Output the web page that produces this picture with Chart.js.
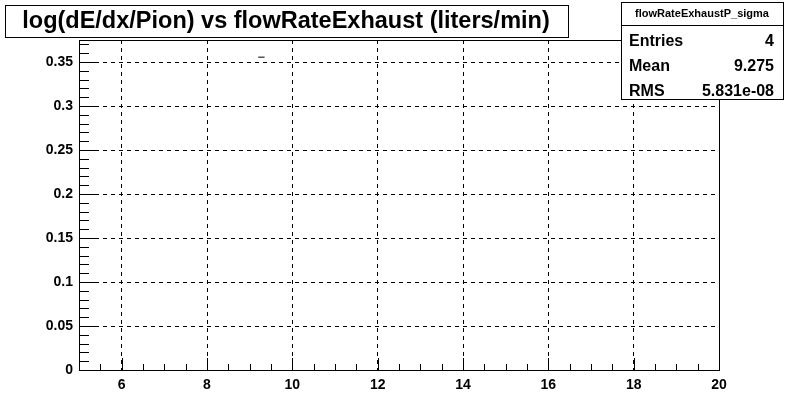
<!DOCTYPE html>
<html>
<head>
<meta charset="utf-8">
<script src="https://cdn.jsdelivr.net/npm/chart.js@4.4.1/dist/chart.umd.min.js"></script>
<style>
  html, body { margin: 0; padding: 0; background: #fff; }
  #wrap { width: 799px; height: 412px; position: relative; }
</style>
</head>
<body>
<div id="wrap"><canvas id="c"></canvas></div>
<script>
const titleText = 'log(dE/dx/Pion) vs flowRateExhaust (liters/min)';
const statsName = 'flowRateExhaustP_sigma';
const statsLabels = ['Entries', 'Mean', 'RMS'];
const statsValues = ['4', '9.275', '5.831e-08'];

const xTicks = [6, 8, 10, 12, 14, 16, 18, 20];
const yTicks = [0, 0.05, 0.1, 0.15, 0.2, 0.25, 0.3, 0.35];
const pointX = [9.275];
const pointY = [0.3555];
const pointXErr = [0.075];

const font = 'Liberation Sans, Arial, Helvetica, sans-serif';

// each point drawn as its x error bar
const segData = [];
pointX.forEach((x, i) => {
    segData.push({ x: x - pointXErr[i], y: pointY[i] });
    segData.push({ x: x + pointXErr[i], y: pointY[i] });
    segData.push({ x: NaN, y: NaN });
});

const rootFrame = {
    id: 'rootFrame',
    afterDraw(chart) {
        const ctx = chart.ctx;
        const a = chart.chartArea;
        const xs = chart.scales.x, ys = chart.scales.y;
        ctx.save();
        ctx.strokeStyle = '#000';
        ctx.lineWidth = 1;
        ctx.beginPath();
        // minor/major ticks on x
        for (let v = 5.5; v < 20; v += 0.5) {
            const px = Math.round(xs.getPixelForValue(v)) + 0.5;
            const major = Math.abs(v - Math.round(v / 2) * 2) < 1e-6;
            ctx.moveTo(px, a.bottom);
            ctx.lineTo(px, a.bottom - (major ? 12 : 6));
        }
        // minor/major ticks on y
        for (let k = 1; k <= 37; k++) {
            const py = Math.round(ys.getPixelForValue(k * 0.01)) + 0.5;
            ctx.moveTo(a.left, py);
            ctx.lineTo(a.left + (k % 5 === 0 ? 20 : 10), py);
        }
        ctx.stroke();
        // frame
        ctx.strokeRect(Math.round(a.left) + 0.5, Math.round(a.top) + 0.5,
            Math.round(a.right - a.left), Math.round(a.bottom - a.top));

        // title box
        ctx.fillStyle = '#fff';
        ctx.fillRect(5, 5, 563, 32);
        ctx.strokeRect(5.5, 5.5, 563, 32);
        ctx.fillStyle = '#000';
        let size = 24;
        ctx.font = 'bold ' + size + 'px ' + font;
        while (size > 10 && ctx.measureText(titleText).width > 536) {
            size -= 0.5;
            ctx.font = 'bold ' + size + 'px ' + font;
        }
        ctx.textAlign = 'center';
        ctx.textBaseline = 'middle';
        ctx.fillText(titleText, 286, 22);

        // stats box
        ctx.fillStyle = '#fff';
        ctx.fillRect(621, 2, 162, 97);
        ctx.strokeRect(621.5, 2.5, 162, 97);
        ctx.beginPath();
        ctx.moveTo(621, 25.5);
        ctx.lineTo(783, 25.5);
        ctx.stroke();
        ctx.fillStyle = '#000';
        ctx.font = 'bold 11px ' + font;
        ctx.textAlign = 'center';
        ctx.fillText(statsName, 702, 14);
        ctx.font = 'bold 16px ' + font;
        statsLabels.forEach((l, i) => {
            const y = 42 + i * 25;
            ctx.textAlign = 'left';
            ctx.fillText(l, 629, y);
            ctx.textAlign = 'right';
            ctx.fillText(statsValues[i], 774, y);
        });
        ctx.restore();
    }
};

new Chart(document.getElementById('c'), {
    type: 'line',
    data: {
        datasets: [{
            data: segData,
            borderColor: '#000',
            borderWidth: 1,
            pointRadius: 0,
            spanGaps: false,
            fill: false
        }]
    },
    options: {
        responsive: true,
        maintainAspectRatio: false,
        animation: false,
        events: [],
        layout: { padding: { top: 40, right: 80, left: 0, bottom: 0 } },
        plugins: { legend: { display: false }, tooltip: { enabled: false } },
        scales: {
            x: {
                type: 'linear',
                min: 5,
                max: 20,
                afterBuildTicks: s => { s.ticks = xTicks.map(v => ({ value: v })); },
                afterFit: s => { s.height = 42; },
                grid: { color: '#000', lineWidth: 1, drawTicks: false },
                border: { display: false, dash: [4, 4] },
                ticks: {
                    color: '#000',
                    padding: 7,
                    maxRotation: 0,
                    font: { family: font, size: 14, weight: 'bold' },
                    callback: v => String(v)
                }
            },
            y: {
                type: 'linear',
                min: 0,
                max: 0.375,
                afterBuildTicks: s => { s.ticks = yTicks.map(v => ({ value: v })); },
                afterFit: s => { s.width = 79; },
                grid: { color: '#000', lineWidth: 1, drawTicks: false },
                border: { display: false, dash: [4, 4] },
                ticks: {
                    color: '#000',
                    padding: 6,
                    font: { family: font, size: 14, weight: 'bold' },
                    callback: v => String(Math.round(v * 100) / 100)
                }
            }
        }
    },
    plugins: [rootFrame]
});
</script>
</body>
</html>
